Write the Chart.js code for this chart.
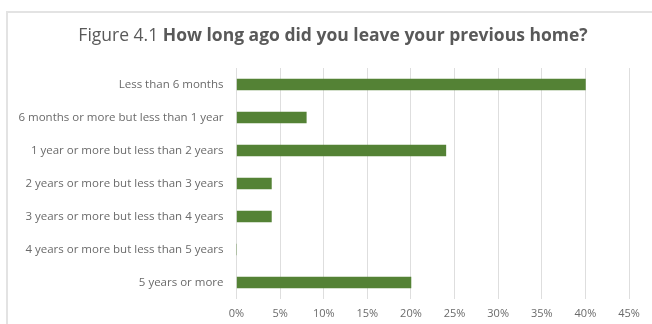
<!DOCTYPE html>
<html>
<head>
<meta charset="utf-8">
<script src="https://cdn.jsdelivr.net/npm/chart.js@4"></script>
<style>
  html, body { margin: 0; padding: 0; background: #fff; }
  #wrap { width: 652px; height: 324px; position: relative; }
</style>
</head>
<body>
<div id="wrap"><canvas id="c" width="652" height="324"></canvas></div>
<script>
// Survey categories and share of respondents (%)
const categories = [
  'Less than 6 months',
  '6 months or more but less than 1 year',
  '1 year or more but less than 2 years',
  '2 years or more but less than 3 years',
  '3 years or more but less than 4 years',
  '4 years or more but less than 5 years',
  '5 years or more'
];
const shares = [40, 8, 24, 4, 4, 0, 20];
const titlePrefix = 'Figure 4.1 ';
const titleMain = 'How long ago did you leave your previous home?';

const FONT = '"Open Sans", "Liberation Sans", Arial, sans-serif';
const TITLE_COLOR = '#595959';
const TICK_COLOR = '#6a6a6a';

// Frame and two-weight title drawn on the canvas
const framePlugin = {
  id: 'frame',
  beforeDraw(chart) {
    const ctx = chart.ctx;
    ctx.save();
    ctx.fillStyle = '#fff';
    ctx.fillRect(0, 0, chart.width, chart.height);
    ctx.strokeStyle = '#e3e3e3';
    ctx.lineWidth = 2;
    ctx.strokeRect(7, 12, chart.width + 10, chart.height + 10);
    ctx.restore();
  },
  afterDraw(chart) {
    const ctx = chart.ctx;
    ctx.save();
    ctx.fillStyle = TITLE_COLOR;
    ctx.textBaseline = 'middle';
    const fNorm = '17.5px ' + FONT;
    const fBold = 'bold 17.5px ' + FONT;
    ctx.font = fNorm;
    const w1 = ctx.measureText(titlePrefix).width;
    ctx.font = fBold;
    const w2 = ctx.measureText(titleMain).width;
    const x = 333 - (w1 + w2) / 2;
    const y = 36;
    ctx.font = fNorm;
    ctx.fillText(titlePrefix, x, y);
    ctx.font = fBold;
    ctx.fillText(titleMain, x + w1, y);
    ctx.restore();
  }
};

new Chart(document.getElementById('c'), {
  type: 'bar',
  data: {
    labels: categories,
    datasets: [{
      data: shares,
      backgroundColor: '#548235',
      borderWidth: 0,
      barThickness: 11
    }]
  },
  options: {
    indexAxis: 'y',
    responsive: false,
    animation: false,
    layout: { padding: { top: 68, right: 23, bottom: 0, left: 10 } },
    plugins: {
      legend: { display: false },
      tooltip: { enabled: false }
    },
    scales: {
      x: {
        min: 0,
        max: 45,
        ticks: {
          stepSize: 5,
          color: TICK_COLOR,
          font: { family: FONT, size: 11 },
          padding: 8,
          callback: v => v + '%'
        },
        grid: { color: '#dedede', drawTicks: false },
        border: { display: false },
        afterFit(scale) { scale.height = 25; }
      },
      y: {
        ticks: {
          color: TICK_COLOR,
          font: { family: FONT, size: 11.5 },
          padding: 13
        },
        grid: { display: false, drawTicks: false },
        border: { display: false },
        afterFit(scale) { scale.width = 226.5; }
      }
    }
  },
  plugins: [framePlugin]
});
</script>
</body>
</html>
